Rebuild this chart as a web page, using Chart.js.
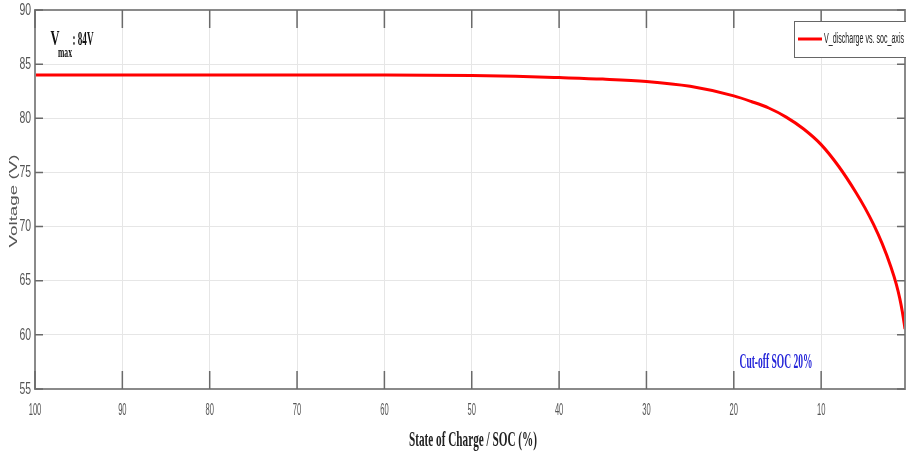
<!DOCTYPE html>
<html>
<head>
<meta charset="utf-8">
<script src="https://cdn.jsdelivr.net/npm/chart.js@4"></script>
<style>
  html, body { margin: 0; padding: 0; background: #fff; overflow: hidden; }
  #wrap { width: 906px; height: 457px; }
</style>
</head>
<body>
<div id="wrap"><canvas id="chart"></canvas></div>
<script>
// discharge curve (SOC %, volts)
const soc = [100, 90, 80, 70, 60, 50, 45, 40, 35, 30, 25, 20, 18, 16, 14, 12, 10, 8, 6, 5, 4, 3, 2, 1.4, 1, 0.7, 0.4];
const voltage = [84.0, 84.0, 84.0, 84.0, 84.0, 83.95, 83.88, 83.76, 83.62, 83.4, 82.95, 82.07, 81.55, 80.95, 80.11, 79.01, 77.57, 75.57, 73.13, 71.75, 70.2, 68.4, 66.25, 64.69, 63.37, 62.11, 60.55];
const xTicks = [100, 90, 80, 70, 60, 50, 40, 30, 20, 10];
const yTicks = [90, 85, 80, 75, 70, 65, 60, 55];
const seriesName = "V_discharge vs. soc_axis";

// draw text squeezed to a given width (the source image is squashed horizontally)
function fitText(ctx, text, x, y, font, color, width, squash, align, rotate) {
  ctx.save();
  ctx.font = font;
  ctx.fillStyle = color;
  ctx.textBaseline = "middle";
  ctx.textAlign = align || "center";
  const w = ctx.measureText(text).width;
  ctx.translate(x, y);
  if (rotate) ctx.rotate(rotate);
  ctx.scale(width / w, squash || 1);
  ctx.fillText(text, 0, 0);
  ctx.restore();
}

const decor = {
  id: "decor",
  afterDraw(chart) {
    const ctx = chart.ctx;
    const a = chart.chartArea;
    const xs = chart.scales.x, ys = chart.scales.y;

    // frame
    ctx.save();
    ctx.strokeStyle = "#8a8a8a";
    ctx.lineWidth = 2;
    ctx.strokeRect(a.left, a.top, a.right - a.left, a.bottom - a.top);

    // inside ticks
    ctx.strokeStyle = "#6a6a6a";
    ctx.lineWidth = 1.5;
    ctx.beginPath();
    xs.ticks.forEach(t => {
      const px = xs.getPixelForValue(t.value);
      ctx.moveTo(px, a.bottom); ctx.lineTo(px, a.bottom - 18);
      ctx.moveTo(px, a.top); ctx.lineTo(px, a.top + 18);
    });
    ys.ticks.forEach(t => {
      const py = ys.getPixelForValue(t.value);
      ctx.moveTo(a.left, py); ctx.lineTo(a.left + 8, py);
      ctx.moveTo(a.right, py); ctx.lineTo(a.right - 8, py);
    });
    ctx.stroke();
    ctx.restore();

    // tick labels
    xs.ticks.forEach(t => {
      const s = String(t.value);
      fitText(ctx, s, xs.getPixelForValue(t.value), a.bottom + 21, "17px 'Liberation Sans'", "#555", s.length * 4.2, 1, "center");
    });
    ys.ticks.forEach(t => {
      const s = String(t.value);
      fitText(ctx, s, a.left - 4, ys.getPixelForValue(t.value), "17px 'Liberation Sans'", "#555", s.length * 5.8, 1, "right");
    });

    // axis titles
    fitText(ctx, "State of Charge / SOC (%)", 473, 441, "bold 21px 'Liberation Serif'", "#222", 128, 1, "center");
    fitText(ctx, "Voltage (V)", 14, 201, "16px 'Liberation Sans'", "#555", 93, 0.7, "center", -Math.PI / 2);

    // annotations
    fitText(ctx, "V", 55, 39, "bold 22px 'Liberation Serif'", "#111", 9, 1, "center");
    fitText(ctx, "max", 65, 53, "bold 15px 'Liberation Serif'", "#111", 14, 1, "center");
    fitText(ctx, ": 84V", 83, 40, "bold 19px 'Liberation Serif'", "#111", 21, 1, "center");
    fitText(ctx, "Cut-off SOC 20%", 776, 363, "bold 21px 'Liberation Serif'", "#2626d9", 73, 1, "center");

    // legend box
    ctx.save();
    ctx.fillStyle = "#fff";
    ctx.fillRect(794, 21, 120, 36);
    ctx.strokeStyle = "#666";
    ctx.lineWidth = 1;
    ctx.strokeRect(794.5, 21.5, 120, 36);
    ctx.strokeStyle = chart.data.datasets[0].borderColor;
    ctx.lineWidth = 3;
    ctx.beginPath();
    ctx.moveTo(798, 39); ctx.lineTo(822, 39);
    ctx.stroke();
    ctx.restore();
    fitText(ctx, chart.data.datasets[0].label, 824, 39, "14px 'Liberation Sans'", "#222", 80, 1, "left");
  }
};

new Chart(document.getElementById("chart"), {
  type: "line",
  data: {
    datasets: [{
      label: seriesName,
      data: soc.map((s, i) => ({ x: s, y: voltage[i] })),
      borderColor: "#ff0000",
      borderWidth: 3,
      pointRadius: 0,
      cubicInterpolationMode: "monotone",
      fill: false
    }]
  },
  options: {
    responsive: true,
    maintainAspectRatio: false,
    animation: false,
    layout: { padding: { left: 0, right: 1, top: 10, bottom: 0 } },
    plugins: {
      legend: { display: false },
      tooltip: { enabled: false }
    },
    scales: {
      x: {
        type: "linear",
        reverse: true,
        min: 0.4,
        max: 100,
        afterBuildTicks: axis => { axis.ticks = xTicks.map(v => ({ value: v })); },
        afterFit: axis => { axis.height = 68; },
        ticks: { display: false },
        grid: { color: "#e6e6e6", lineWidth: 1, drawTicks: false },
        border: { display: false }
      },
      y: {
        min: 55,
        max: 90,
        afterBuildTicks: axis => { axis.ticks = yTicks.map(v => ({ value: v })); },
        afterFit: axis => { axis.width = 35; },
        ticks: { display: false },
        grid: { color: "#e6e6e6", lineWidth: 1, drawTicks: false },
        border: { display: false }
      }
    }
  },
  plugins: [decor]
});
</script>
</body>
</html>
